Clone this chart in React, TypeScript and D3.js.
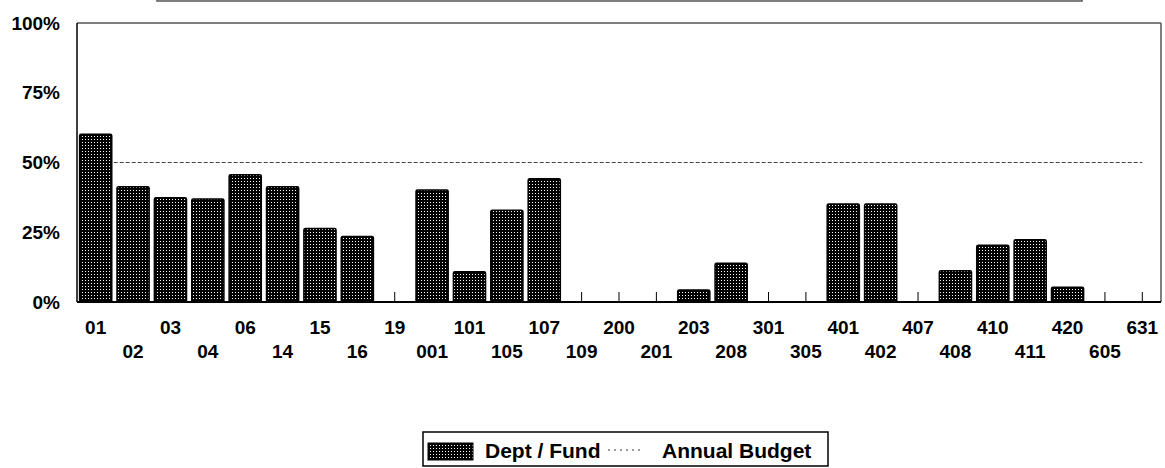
import React from "react";
import * as d3 from "d3";

const categories = ["01","02","03","04","06","14","15","16","19","001","101","105","107","109","200","201","203","208","301","305","401","402","407","408","410","411","420","605","631"];
const deptFund = [60.1,41.3,37.4,36.9,45.6,41.3,26.3,23.5,0,40.1,10.8,32.9,44.2,0,0,0,4.3,13.9,0,0,35.1,35.1,0,11.2,20.3,22.3,5.3,0,0];
const annualBudget = 50;
const yTicks = [0,25,50,75,100];

const W = 1165, H = 468;
const M = { left: 77, right: 1161, top: 23, bottom: 302 };
const FONT = "'Liberation Sans', Arial, sans-serif";

export default function App() {
  const x = d3.scaleBand<string>().domain(categories).range([M.left, M.right]).paddingInner(0.14).paddingOuter(0.07);
  const y = d3.scaleLinear().domain([0, 100]).range([M.bottom, M.top]);
  const cx = (c: string) => (x(c) as number) + x.bandwidth() / 2;
  const line = d3.line<number>().x((_, i) => i === 0 ? cx(categories[0]) : cx(categories[categories.length - 1])).y(d => y(d));
  return (
    <svg width={W} height={H} style={{ position: "absolute", left: 0, top: 0, background: "#fff" }} fontFamily={FONT}>
      <defs>
        <pattern id="stip" width={3} height={3} patternUnits="userSpaceOnUse">
          <rect width={3} height={3} fill="#000" />
          <rect x={1} y={1} width={1} height={1} fill="#fff" />
        </pattern>
      </defs>
      {/* box edge at top from previous element */}
      <rect x={157} y={-20} width={925} height={21} fill="none" stroke="#555" strokeWidth={1.5} />
      {/* plot frame */}
      <line x1={M.left} x2={M.right} y1={M.top} y2={M.top} stroke="#555" strokeWidth={1.5} />
      <line x1={M.right} x2={M.right} y1={M.top} y2={M.bottom} stroke="#555" strokeWidth={1.5} />
      <line x1={M.left} x2={M.left} y1={M.top} y2={M.bottom} stroke="#000" strokeWidth={1.5} />
      {/* y labels */}
      {yTicks.map(t => (
        <text key={t} x={60} y={y(t) + 6.5} textAnchor="end" fontSize={19} fontWeight="bold" fill="#000">{t}%</text>
      ))}
      {/* ticks */}
      {categories.map(c => (
        <line key={"t" + c} x1={cx(c)} x2={cx(c)} y1={M.bottom} y2={M.bottom - 10} stroke="#000" strokeWidth={1} />
      ))}
      {/* annual budget line */}
      <path d={line([annualBudget, annualBudget]) || ""} stroke="#444" strokeWidth={1} strokeDasharray="4,2" fill="none" />
      {/* bars */}
      {categories.map((c, i) => (
        <rect key={"b" + c} x={x(c)} y={y(deptFund[i])} width={x.bandwidth()} height={M.bottom - y(deptFund[i])}
          fill="url(#stip)" stroke="#000" strokeWidth={1.5} rx={1.5} />
      ))}
      <line x1={M.left} x2={M.right} y1={M.bottom} y2={M.bottom} stroke="#000" strokeWidth={2} />
      {/* x labels */}
      {categories.map((c, i) => (
        <text key={"l" + c} x={cx(c)} y={i % 2 === 0 ? 334 : 358} textAnchor="middle" fontSize={19} fontWeight="bold" fill="#000">{c}</text>
      ))}
      {/* legend */}
      <rect x={423} y={432} width={405} height={34} fill="#fff" stroke="#000" strokeWidth={1.5} />
      <rect x={428} y={443} width={45} height={17} fill="url(#stip)" stroke="#000" strokeWidth={1} />
      <text x={485} y={458} fontSize={21} fontWeight="bold" fill="#000">Dept / Fund</text>
      <line x1={608} x2={640} y1={450} y2={450} stroke="#333" strokeWidth={1} strokeDasharray="2,4" />
      <text x={662} y={458} fontSize={21} fontWeight="bold" fill="#000">Annual Budget</text>
    </svg>
  );
}
